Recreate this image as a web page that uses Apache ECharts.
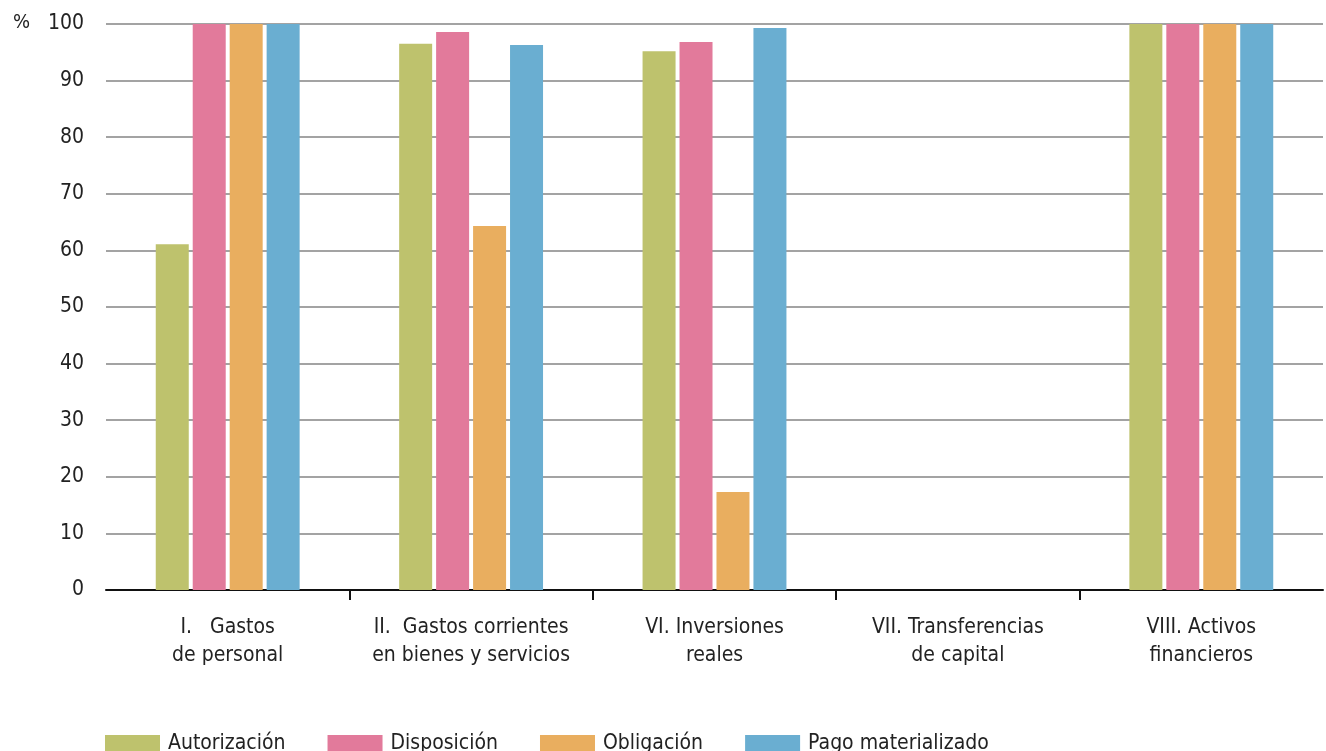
<!DOCTYPE html>
<html><head><meta charset="utf-8">
<script src="https://cdn.jsdelivr.net/npm/echarts@6/dist/echarts.min.js"></script>
<style>html,body{margin:0;padding:0;background:#fff}#c{width:1326px;height:751px}</style>
</head><body><div id="c"></div>
<script>
const categories = ["I.   Gastos\nde personal","II.  Gastos corrientes\nen bienes y servicios","VI. Inversiones\nreales","VII. Transferencias\nde capital","VIII. Activos\nfinancieros"];
const seriesNames = ["Autorización","Disposición","Obligación","Pago materializado"];
const autorizacion = [61.1, 96.5, 95.2, 0, 100];
const disposicion = [100, 98.6, 96.8, 0, 100];
const obligacion = [100, 64.3, 17.3, 0, 100];
const pago = [100, 96.3, 99.3, 0, 100];
const colors = ["#bec26d","#e27a9b","#e9ae5f","#6aaed1"];
const FONT = "'Liberation Sans Narrow','DejaVu Sans Condensed',sans-serif";
const data = [autorizacion, disposicion, obligacion, pago];
const innerTicks = categories.slice(1).map((c,i)=>i+1);
const chart = echarts.init(document.getElementById('c'));
chart.setOption({
  animation:false,
  textStyle:{fontFamily:FONT},
  grid:{left:106,right:3,top:24,bottom:161,containLabel:false},
  legend:{top:728,left:100,itemWidth:55,itemHeight:17,itemGap:42,icon:'rect',
    textStyle:{fontFamily:FONT,fontSize:21,color:'#222',padding:[0,0,0,3]},data:seriesNames},
  graphic:[{type:'text',left:13,top:13,style:{text:'%',font:"20px "+FONT,fill:'#222'}}],
  xAxis:[{type:'category',data:categories,
    axisLine:{lineStyle:{color:'#111',width:2}},
    axisTick:{show:false},
    axisLabel:{fontFamily:FONT,fontSize:21,color:'#222',lineHeight:28,margin:24,interval:0}},
   {type:'value',position:'bottom',min:0,max:categories.length,
    axisLine:{show:false},splitLine:{show:false},axisLabel:{show:false},
    axisTick:{show:true,length:10,lineStyle:{color:'#111',width:2},customValues:innerTicks}}],
  yAxis:{type:'value',min:0,max:100,interval:10,
    axisLine:{show:false},axisTick:{show:false},
    splitLine:{lineStyle:{color:'#a3a3a3',width:2}},
    axisLabel:{fontFamily:FONT,fontSize:21,color:'#222',margin:22}},
  series: data.map((d,i)=>({name:seriesNames[i],type:'bar',data:d,barWidth:33,barGap:'12%',
    itemStyle:{color:colors[i]}}))
});
</script></body></html>
